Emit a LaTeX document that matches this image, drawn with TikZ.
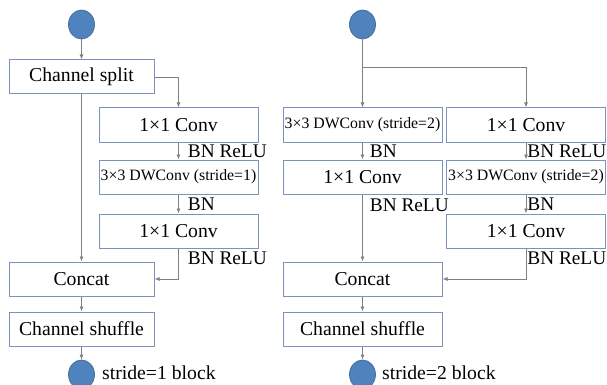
\documentclass[tikz,border=0pt]{standalone}
\usepackage{fontspec}
\setmainfont{Liberation Serif}
\usetikzlibrary{arrows.meta,shapes.geometric}
\definecolor{boxline}{RGB}{124,146,190}
\definecolor{dotfill}{RGB}{80,130,190}
\definecolor{dotline}{RGB}{65,112,156}
\definecolor{wire}{RGB}{128,128,128}
\newcommand{\bigtxt}{\fontsize{19.7}{22}\selectfont}
\newcommand{\tagtxt}{\fontsize{19.3}{22}\selectfont}
\newcommand{\smalltxt}{\fontsize{15.8}{18}\selectfont}
\tikzset{
 blk/.style={draw=boxline,line width=1pt,minimum width=159pt,minimum height=34pt,inner sep=0pt,font=\bigtxt},
 sideblk/.style={blk,minimum width=145pt},
 dwblk/.style={blk,font=\smalltxt},
 dot/.style={ellipse,draw=dotline,fill=dotfill,line width=.8pt,minimum width=26pt,minimum height=29pt,inner sep=0pt},
 wirearrow/.style={draw=wire,line width=.8pt,-{Latex[length=5pt,width=4pt]}},
 tag/.style={font=\tagtxt,inner sep=0pt,anchor=west}
}
\begin{document}
\begin{tikzpicture}[x=1pt,y=-1pt]
 \clip (0,0) rectangle (607,385);
 % stride=1 block
 \node[dot] (in1) at (81.5,24.5) {};
 \node[sideblk] (split) at (81.5,77) {Channel split};
 \node[blk] (conv1a) at (178.5,125) {1\texttimes1 Conv};
 \node[dwblk] (dw1) at (178.5,177) {3\texttimes3 DWConv (stride=1)};
 \node[blk] (conv1b) at (178.5,231) {1\texttimes1 Conv};
 \node[sideblk] (concat1) at (81.5,279) {Concat};
 \node[sideblk] (shuffle1) at (81.5,329) {Channel shuffle};
 \node[dot] (out1) at (81.5,374.5) {};
 \node[tag,font=\bigtxt] at (102,373) {stride=1 block};
 \draw[wirearrow] (in1) -- (split);
 \draw[wirearrow] (split.east) -| (conv1a.north);
 \draw[wirearrow] (conv1a) -- node[tag,xshift=9pt] {BN ReLU} (dw1);
 \draw[wirearrow] (dw1) -- node[tag,xshift=9pt] {BN} (conv1b);
 \draw[wirearrow] (conv1b.south) |- node[tag,pos=.16,xshift=9pt] {BN ReLU} (concat1.east);
 \draw[wirearrow] (split) -- (concat1);
 \draw[wirearrow] (concat1) -- (shuffle1);
 \draw[wirearrow] (shuffle1) -- (out1);
 % stride=2 block
 \node[dot] (in2) at (362.5,24.5) {};
 \coordinate (fork) at (362.5,67);
 \node[dwblk] (dw2a) at (362.5,125) {3\texttimes3 DWConv (stride=2)};
 \node[blk] (conv2a) at (362.5,177) {1\texttimes1 Conv};
 \node[blk] (conv2b) at (526,125) {1\texttimes1 Conv};
 \node[dwblk] (dw2b) at (526,177) {3\texttimes3 DWConv (stride=2)};
 \node[blk] (conv2c) at (526,231) {1\texttimes1 Conv};
 \node[blk] (concat2) at (362.5,279) {Concat};
 \node[blk] (shuffle2) at (362.5,329) {Channel shuffle};
 \node[dot] (out2) at (362.5,374.5) {};
 \node[tag,font=\bigtxt] at (382,373) {stride=2 block};
 \draw[wirearrow] (in2) -- (dw2a);
 \draw[wirearrow] (fork) -| (conv2b.north);
 \draw[wirearrow] (dw2a) -- node[tag,xshift=7pt] {BN} (conv2a);
 \draw[wirearrow] (conv2a) -- node[tag,pos=.16,xshift=7pt] {BN ReLU} (concat2);
 \draw[wirearrow] (conv2b) -- node[tag,xshift=1pt] {BN ReLU} (dw2b);
 \draw[wirearrow] (dw2b) -- node[tag,xshift=1pt] {BN} (conv2c);
 \draw[wirearrow] (conv2c.south) |- node[tag,pos=.16,xshift=1pt] {BN ReLU} (concat2.east);
 \draw[wirearrow] (concat2) -- (shuffle2);
 \draw[wirearrow] (shuffle2) -- (out2);
\end{tikzpicture}
\end{document}
